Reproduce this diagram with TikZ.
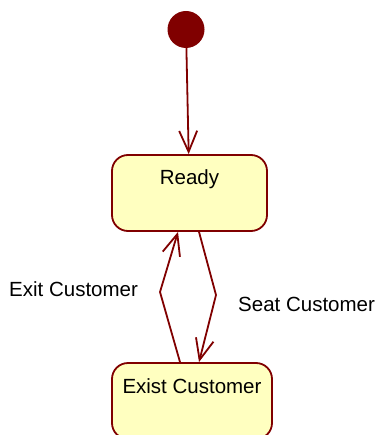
\documentclass[tikz,border=0pt]{standalone}
\usepackage{fontspec}
\setmainfont{Liberation Sans}
\usetikzlibrary{arrows.meta}
\usetikzlibrary{positioning}
\definecolor{umlred}{RGB}{128,0,0}
\definecolor{umlfill}{RGB}{255,255,192}
\tikzstyle{initial} = [circle, fill=umlred, draw=none, minimum size=37bp, inner sep=0pt]
\tikzstyle{state} = [rectangle, rounded corners=16bp, minimum height=76bp, text height=14bp, text depth=30bp, draw=umlred, fill=umlfill, line width=1.8bp]
\tikzstyle{trans} = [draw=umlred, line width=1.8bp, -{Straight Barb[length=21bp, width=18bp]}]
\tikzstyle{event} = [anchor=base west, inner sep=0pt]

\begin{document}
\begin{tikzpicture}[x=1bp, y=-1bp, node distance=108bp, font=\fontsize{20.5bp}{24bp}\selectfont]
 \useasboundingbox (0,0) rectangle (380,435);

 \node (start) [initial] at (186,29.5) {};
 \node (ready) [state, minimum width=155bp] at (189.5,193) {Ready};
 \node (exist) [state, minimum width=160bp] at (192,401) {Exist Customer};

 \coordinate (seatbend) at (216,295);
 \coordinate (exitbend) at (160,292);

 \draw[trans] (start) -- (ready);
 \draw[trans] ([xshift=9.5bp]ready.south) -- (seatbend) -- ([xshift=7bp]exist.north);
 \draw[trans] ([xshift=-12bp]exist.north) -- (exitbend) -- ([xshift=-11.5bp]ready.south);

 \node (exitlabel) [event] at (9,296.7) {Exit Customer};
 \node (seatlabel) [event] at (238,311.7) {Seat Customer};
\end{tikzpicture}
\end{document}
